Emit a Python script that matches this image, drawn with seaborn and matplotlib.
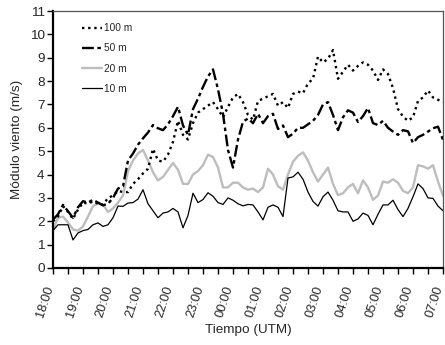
import numpy as np
import pandas as pd
import matplotlib
matplotlib.use("Agg")
import matplotlib.pyplot as plt
import matplotlib.transforms as mtransforms
import seaborn as sns

# ---------------- data (10-minute values, 18:00 -> 07:00 UTM) ----------------
hour_labels = ["18:00", "19:00", "20:00", "21:00", "22:00", "23:00", "00:00",
               "01:00", "02:00", "03:00", "04:00", "05:00", "06:00", "07:00"]

v100 = [2.00, 2.20, 2.65, 2.40, 2.10, 2.50, 2.80, 2.75, 2.85, 2.75, 2.70, 3.00,
        3.10, 3.30, 3.25, 3.25, 3.60, 3.80, 4.05, 4.25, 5.10, 4.60, 4.55, 4.85,
        5.40, 6.30, 5.70, 5.50, 6.20, 6.65, 6.80, 6.95, 7.10, 6.80, 6.45, 6.90,
        7.30, 7.45, 7.10, 6.55, 6.35, 7.15, 7.25, 7.35, 7.45, 6.95, 7.10, 6.85,
        7.45, 7.55, 7.48, 7.90, 8.10, 9.05, 8.80, 8.95, 9.33, 8.10, 8.40, 8.70,
        8.45, 8.65, 8.80, 8.70, 8.45, 8.05, 8.50, 8.30, 7.70, 6.80, 6.48, 6.30,
        6.45, 7.15, 7.30, 7.60, 7.30, 7.20, 7.10]

v50 = [2.07, 2.30, 2.70, 2.43, 2.15, 2.60, 2.86, 2.80, 2.92, 2.80, 2.68, 2.75,
       3.00, 3.40, 3.50, 4.60, 4.90, 5.28, 5.55, 5.80, 6.12, 5.98, 5.90, 6.15,
       6.50, 6.90, 6.10, 5.70, 6.80, 7.25, 7.75, 8.20, 8.50, 7.65, 6.60, 5.05,
       4.30, 5.50, 6.26, 6.40, 6.20, 6.60, 6.20, 6.50, 6.60, 5.95, 6.10, 5.60,
       5.75, 6.00, 6.00, 6.15, 6.30, 6.55, 7.00, 7.10, 6.55, 5.90, 6.45, 6.75,
       6.65, 6.25, 6.50, 6.85, 6.20, 6.12, 6.30, 6.00, 5.84, 5.70, 5.90, 5.85,
       5.35, 5.60, 5.70, 5.84, 5.98, 6.05, 5.48]

v20 = [1.64, 2.15, 2.20, 1.95, 1.65, 1.60, 1.78, 2.20, 2.65, 2.77, 2.71, 2.40,
       2.55, 2.80, 3.10, 4.15, 4.60, 4.90, 5.05, 4.60, 4.10, 3.75, 3.90, 4.20,
       4.50, 4.20, 3.60, 3.60, 4.00, 4.15, 4.40, 4.85, 4.75, 4.30, 3.45, 3.45,
       3.65, 3.65, 3.45, 3.35, 3.40, 3.25, 3.45, 4.25, 4.00, 3.50, 3.35, 4.00,
       4.55, 4.80, 4.95, 4.60, 4.10, 3.70, 4.00, 4.30, 3.60, 3.12, 3.20, 3.45,
       3.60, 3.20, 3.75, 3.45, 2.92, 3.10, 3.70, 3.65, 3.80, 3.65, 3.30, 3.20,
       3.45, 4.40, 4.35, 4.25, 4.40, 3.70, 3.10]

v10 = [1.60, 1.85, 1.85, 1.85, 1.20, 1.50, 1.60, 1.65, 1.85, 1.93, 1.78, 1.85,
       2.15, 2.65, 2.64, 2.78, 2.80, 2.95, 3.35, 2.75, 2.45, 2.15, 2.35, 2.40,
       2.55, 2.40, 1.72, 2.25, 3.20, 2.80, 2.93, 3.22, 3.07, 2.80, 2.72, 3.00,
       2.90, 2.75, 2.66, 2.72, 2.70, 2.40, 2.06, 2.60, 2.70, 2.60, 2.20, 3.85,
       3.90, 4.10, 3.80, 3.25, 2.85, 2.65, 3.05, 3.25, 2.90, 2.45, 2.40, 2.40,
       2.00, 2.10, 2.35, 2.25, 1.85, 2.30, 2.70, 2.70, 2.90, 2.50, 2.20, 2.55,
       3.05, 3.60, 3.40, 3.00, 2.98, 2.65, 2.45]

series_names = ["100 m", "50 m", "20 m", "10 m"]

# ---------------- style ----------------
sns.set_style("ticks")
plt.rcParams["font.family"] = ["Liberation Sans", "DejaVu Sans"]

W, H = 445, 345
fig = plt.figure(figsize=(W / 100, H / 100), dpi=100)
ax = fig.add_axes([53 / W, 1 - 268 / H, 390 / W, 257 / H])

t = np.arange(len(v10)) / 6.0  # hours after 18:00, 10-min steps
df = pd.DataFrame({"t": t, "100 m": v100, "50 m": v50, "20 m": v20, "10 m": v10})

styles = {
    "20 m": dict(color="#bdbdbd", linewidth=1.7, linestyle="-"),
    "10 m": dict(color="black", linewidth=0.9, linestyle="-"),
    "50 m": dict(color="black", linewidth=1.7, linestyle=(0, (5, 1.5, 1.5, 1.5))),
    "100 m": dict(color="black", linewidth=1.7, linestyle=(0, (1, 1.6))),
}
for name in ["20 m", "10 m", "50 m", "100 m"]:
    sns.lineplot(data=df, x="t", y=name, ax=ax, label=name, sort=False,
                 errorbar=None, **styles[name])

ax.set_xlim(0, 13)
ax.set_ylim(0, 11)
ax.set_yticks(range(0, 12))
ax.set_xticks(range(len(hour_labels)))
ax.set_xticks(np.arange(0.5, 13, 1.0), minor=True)
ax.tick_params(axis="y", labelsize=9.7, length=4, width=1, pad=2, color="black")
ax.tick_params(axis="x", which="both", length=4, width=1, pad=9, color="black")
ax.set_xticklabels(hour_labels, rotation=72, ha="right", va="center",
                   rotation_mode="anchor", fontsize=9.3)
shift = mtransforms.ScaledTranslation(-3 / 100, 0, fig.dpi_scale_trans)
for lab in ax.get_xticklabels():
    lab.set_transform(lab.get_transform() + shift)

for s in ["left", "bottom"]:
    ax.spines[s].set_linewidth(1.6)
    ax.spines[s].set_color("black")
for s in ["top", "right"]:
    ax.spines[s].set_visible(True)
    ax.spines[s].set_linewidth(0.9)
    ax.spines[s].set_color("#555555")

ax.set_xlabel("Tiempo (UTM)", fontsize=9.7, labelpad=4)
ax.set_ylabel("Módulo viento (m/s)", fontsize=9.7, labelpad=5)

handles, labels = ax.get_legend_handles_labels()
hmap = dict(zip(labels, handles))
ax.legend([hmap[n] for n in series_names], series_names, loc="upper left",
          bbox_to_anchor=(0.074, 0.952), frameon=False, fontsize=7.3,
          handlelength=2.0, handletextpad=0.15, labelspacing=1.0,
          borderpad=0, borderaxespad=0)

fig.savefig("out.png", dpi=100)
